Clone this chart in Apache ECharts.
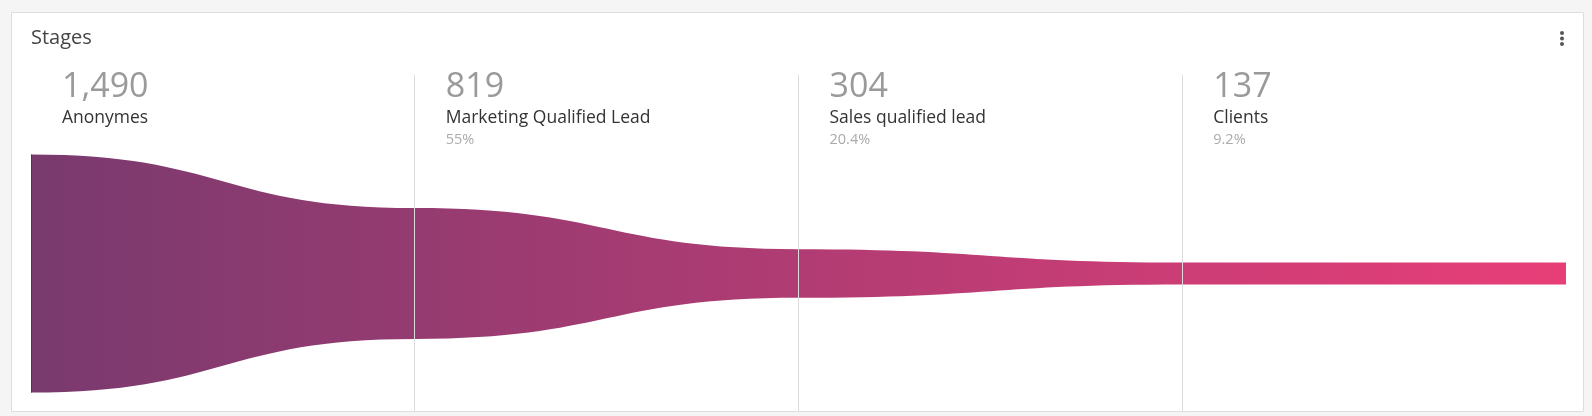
<!DOCTYPE html>
<html><head><meta charset="utf-8">
<script src="https://cdn.jsdelivr.net/npm/echarts@6/dist/echarts.min.js"></script>
<style>html,body{margin:0;padding:0;background:#f5f5f5;} #c{width:1592px;height:416px;}</style>
</head><body><div id="c"></div>
<script>
const chartTitle = 'Stages';
const stageNames = ['Anonymes', 'Marketing Qualified Lead', 'Sales qualified lead', 'Clients'];
const stageCounts = [1490, 819, 304, 137];

const Y_MAX = 1243, Y_MIN = -867;
const FONT = '"Open Sans", sans-serif';
const n = stageCounts.length;
const rows = stageCounts.map((c, i) => [i, c, stageCounts[Math.min(i + 1, n - 1)]]);

function pctLabel(i) {
  if (i === 0) return '';
  const p = parseFloat((stageCounts[i] / stageCounts[0] * 100).toFixed(1));
  return p + '%';
}

const chart = echarts.init(document.getElementById('c'), null, { renderer: 'canvas' });

function renderItem(params, api) {
  const i = api.value(0), v0 = api.value(1), v1 = api.value(2);
  const p0t = api.coord([i, v0 / 2]), p0b = api.coord([i, -v0 / 2]);
  const p1t = api.coord([i + 1, v1 / 2]), p1b = api.coord([i + 1, -v1 / 2]);
  const xm = (p0t[0] + p1t[0]) / 2;
  const xs = api.coord([0, 0])[0], xe = api.coord([n, 0])[0];
  const top = api.coord([i, Y_MAX])[1], bottom = api.coord([i, Y_MIN])[1];
  const grad = {
    type: 'linear', x: xs, y: 0, x2: xe, y2: 0, global: true,
    colorStops: [{ offset: 0, color: '#793a6e' }, { offset: 1, color: '#e83e78' }]
  };
  const d = 'M' + p0t[0] + ' ' + p0t[1] +
    ' C' + xm + ' ' + p0t[1] + ' ' + xm + ' ' + p1t[1] + ' ' + p1t[0] + ' ' + p1t[1] +
    ' L' + p1b[0] + ' ' + p1b[1] +
    ' C' + xm + ' ' + p1b[1] + ' ' + xm + ' ' + p0b[1] + ' ' + p0b[0] + ' ' + p0b[1] + ' Z';
  const children = [{
    type: 'path', shape: { pathData: d }, style: { fill: grad }
  }];
  if (i === 0) {
    children.push({ type: 'line', shape: { x1: p0t[0] + 0.5, y1: p0t[1], x2: p0b[0] + 0.5, y2: p0b[1] },
      style: { stroke: '#6a2660', lineWidth: 1 } });
  }
  if (i > 0) {
    const lx = Math.floor(p0t[0]) + 0.5;
    children.push({ type: 'line', shape: { x1: lx, y1: top, x2: lx, y2: bottom },
      style: { stroke: '#dcdcdc', lineWidth: 1 } });
  }
  const tx = p0t[0] + 31;
  children.push({ type: 'text', style: { text: stageCounts[i].toLocaleString('en-US'), x: tx, y: top + 12,
    fill: '#9a9a9a', fontSize: 34, fontFamily: FONT, fontWeight: 'normal', align: 'left', verticalAlign: 'middle' } });
  children.push({ type: 'text', style: { text: stageNames[i], x: tx, y: top + 43,
    fill: '#333333', fontSize: 17.5, fontFamily: FONT, align: 'left', verticalAlign: 'middle' } });
  const pl = pctLabel(i);
  if (pl) children.push({ type: 'text', style: { text: pl, x: tx, y: top + 64.5,
    fill: '#ababab', fontSize: 14.5, fontFamily: FONT, align: 'left', verticalAlign: 'middle' } });
  return { type: 'group', children };
}

chart.setOption({
  animation: false,
  grid: { left: 31, right: 26, top: 75, bottom: 4 },
  xAxis: { type: 'value', min: 0, max: n, show: false },
  yAxis: { type: 'value', min: Y_MIN, max: Y_MAX, show: false },
  graphic: [
    { type: 'rect', z: -10, shape: { x: 11.5, y: 12.5, width: 1572, height: 399 },
      style: { fill: '#ffffff', stroke: '#dedede', lineWidth: 1 } },
    { type: 'text', z: 5, style: { text: chartTitle, x: 31, y: 38.5, fill: '#444444', fontSize: 20,
      fontFamily: FONT, align: 'left', verticalAlign: 'middle' } },
    { type: 'circle', z: 5, shape: { cx: 1562, cy: 33, r: 2 }, style: { fill: '#555' } },
    { type: 'circle', z: 5, shape: { cx: 1562, cy: 38.5, r: 2 }, style: { fill: '#555' } },
    { type: 'circle', z: 5, shape: { cx: 1562, cy: 44, r: 2 }, style: { fill: '#555' } }
  ],
  series: [{
    type: 'custom', renderItem, clip: false, data: rows, silent: true
  }]
});
</script></body></html>
